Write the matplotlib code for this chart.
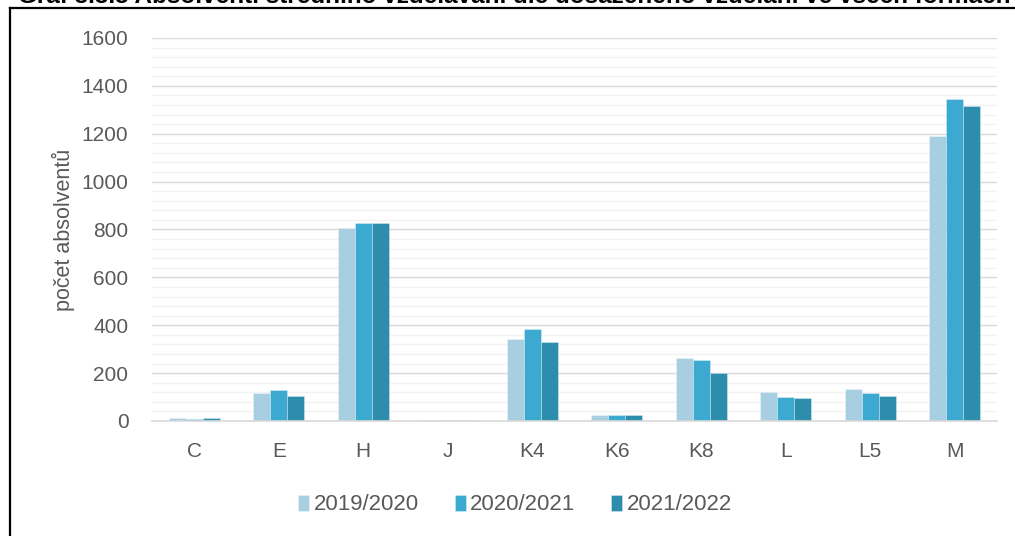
import matplotlib
matplotlib.use("Agg")
import matplotlib.pyplot as plt
import numpy as np
from matplotlib.lines import Line2D

# ---- data -------------------------------------------------------------
categories = ["C", "E", "H", "J", "K4", "K6", "K8", "L", "L5", "M"]
years = ["2019/2020", "2020/2021", "2021/2022"]
v_2019 = [13, 115, 807, 6, 342, 24, 263, 120, 135, 1192]
v_2020 = [9, 130, 826, 5, 386, 23, 256, 100, 117, 1345]
v_2021 = [11, 104, 826, 5, 330, 23, 200, 97, 106, 1316]
y_ticks = [0, 200, 400, 600, 800, 1000, 1200, 1400, 1600]

colors = ["#A7CEE1", "#3CAAD0", "#2D8DAD"]
txt = "#595959"
plt.rcParams["font.family"] = ["Liberation Sans", "DejaVu Sans"]

fig = plt.figure(figsize=(10.15, 5.36), dpi=100)
ax = fig.add_axes([152 / 1015, 1 - 421 / 536, 845 / 1015, 383 / 536])

x = np.arange(len(categories))
w = 0.2
for i, vals in enumerate([v_2019, v_2020, v_2021]):
    ax.bar(x + (i - 1) * w, vals, width=w, color=colors[i],
           edgecolor=(1, 1, 1, 0.45), linewidth=0.5, label=years[i], zorder=3)

ax.set_xlim(-0.5, len(categories) - 0.5)
ax.set_ylim(0, 1600)
ax.set_yticks(y_ticks)
ax.set_yticks(np.arange(0, 1601, 40), minor=True)
ax.set_xticks(x)
ax.set_xticklabels(categories)

ax.grid(axis="y", which="major", color="#D9D9D9", linewidth=1.0, zorder=0)
ax.grid(axis="y", which="minor", color="#F2F2F2", linewidth=1.0, zorder=0)
for s in ["top", "right", "left"]:
    ax.spines[s].set_visible(False)
ax.spines["bottom"].set_color("#D9D9D9")
ax.spines["bottom"].set_linewidth(1.2)
ax.spines["bottom"].set_zorder(4)
ax.tick_params(axis="both", which="both", length=0, labelsize=15, labelcolor=txt)
ax.tick_params(axis="y", pad=17)
ax.tick_params(axis="x", pad=15)
ax.set_ylabel("počet absolventů", fontsize=15.5, color=txt, labelpad=5)

leg = fig.legend(loc="center", bbox_to_anchor=(515 / 1015, 1 - 505 / 536), ncol=3,
                 frameon=False, fontsize=16, handlelength=0.5, handleheight=0.7,
                 handletextpad=0.2, columnspacing=1.6)
for t in leg.get_texts():
    t.set_color(txt)

# ---- frame and clipped caption ---------------------------------------
fig.add_artist(Line2D([10 / 1015, 10 / 1015], [0, 1 - 8 / 536], color="black", linewidth=1.6))
fig.add_artist(Line2D([10 / 1015, 1], [1 - 8 / 536, 1 - 8 / 536], color="black", linewidth=1.6))
fig.text(18 / 1015, 1 - 3 / 536,
         "Graf 3.3.5 Absolventi středního vzdělávání dle dosaženého vzdělání ve všech formách",
         fontsize=17.5, fontweight="bold", va="baseline", ha="left", color="black")

fig.savefig("out.png", dpi=100)
